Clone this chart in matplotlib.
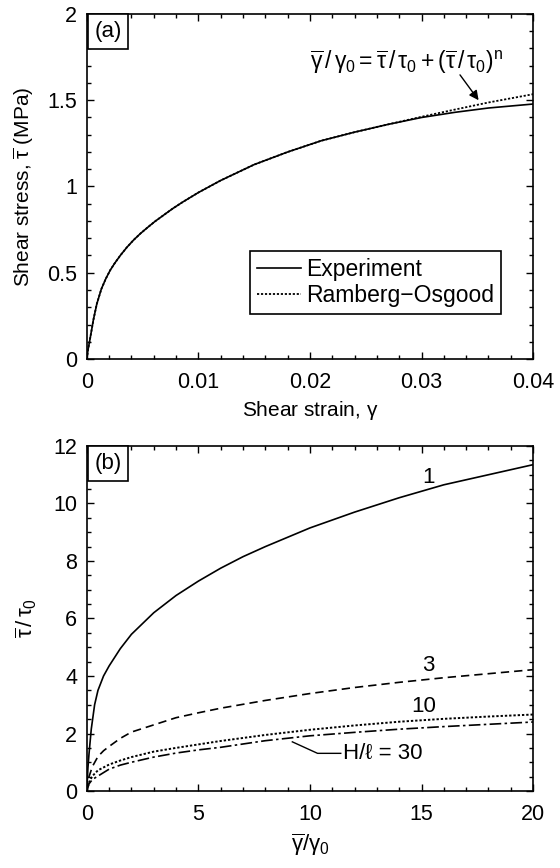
import matplotlib
matplotlib.use('Agg')
import matplotlib.pyplot as plt
from matplotlib.ticker import MultipleLocator

plt.rcParams['font.family'] = ['Liberation Sans', 'DejaVu Sans']
plt.rcParams['mathtext.fontset'] = 'custom'
plt.rcParams['mathtext.rm'] = 'Liberation Sans'
plt.rcParams['mathtext.it'] = 'Liberation Sans'
plt.rcParams['mathtext.bf'] = 'Liberation Sans:bold'
plt.rcParams['font.size'] = 15

# panel (a): shear stress-strain
strain = [0, 0.0001, 0.0003, 0.0006, 0.0009, 0.0013, 0.0017, 0.0021, 0.0025, 0.003,
          0.0036, 0.0042, 0.0048, 0.0054, 0.0061, 0.0068, 0.0077, 0.0086, 0.01, 0.012,
          0.015, 0.018, 0.021, 0.024, 0.027, 0.03, 0.033, 0.036, 0.04]
stress_exp = [0, 0.05, 0.12, 0.23, 0.32, 0.405, 0.465, 0.515, 0.555, 0.60,
              0.648, 0.69, 0.727, 0.76, 0.797, 0.83, 0.872, 0.91, 0.965, 1.035,
              1.127, 1.20, 1.265, 1.315, 1.36, 1.40, 1.43, 1.455, 1.478]
stress_ro = [0, 0.05, 0.12, 0.23, 0.32, 0.405, 0.465, 0.515, 0.555, 0.60,
             0.648, 0.69, 0.727, 0.76, 0.797, 0.83, 0.872, 0.91, 0.965, 1.035,
             1.127, 1.20, 1.265, 1.315, 1.36, 1.404, 1.446, 1.487, 1.535]

# panel (b): normalised curves for H/l = 1, 3, 10, 30
g1 = [0, 0.05, 0.1, 0.2, 0.35, 0.5, 0.75, 1, 1.5, 2, 3, 4, 5, 6, 7, 8, 10, 12, 14, 16, 18, 20]
t1 = [0, 0.8, 1.3, 2.15, 3.0, 3.5, 4.0, 4.35, 4.95, 5.45, 6.2, 6.8, 7.3, 7.75, 8.15, 8.5,
      9.15, 9.7, 10.2, 10.65, 11.0, 11.35]
g3 = [0, 0.1, 0.25, 0.5, 0.75, 1, 1.5, 2, 3, 4, 5, 6, 8, 10, 12, 14, 16, 18, 20]
t3 = [0, 0.5, 0.85, 1.2, 1.4, 1.55, 1.83, 2.05, 2.3, 2.55, 2.72, 2.88, 3.15, 3.39, 3.6,
      3.78, 3.94, 4.08, 4.22]
g10 = [0, 0.1, 0.25, 0.5, 1, 1.5, 2, 3, 4, 5, 6, 8, 10, 12, 14, 16, 18, 20]
t10 = [0, 0.3, 0.52, 0.72, 0.92, 1.06, 1.18, 1.37, 1.5, 1.62, 1.74, 1.95, 2.13, 2.28,
       2.41, 2.51, 2.59, 2.66]
g30 = [0, 0.1, 0.25, 0.5, 1, 1.5, 2, 3, 4, 5, 6, 8, 10, 12, 14, 16, 18, 20]
t30 = [0, 0.25, 0.4, 0.52, 0.76, 0.9, 1.0, 1.18, 1.32, 1.43, 1.52, 1.75, 1.92, 2.04,
       2.15, 2.24, 2.32, 2.4]

xticks_a = [0, 0.01, 0.02, 0.03, 0.04]
xticklabels_a = ['0', '0.01', '0.02', '0.03', '0.04']
yticks_a = [0, 0.5, 1, 1.5, 2]
yticklabels_a = ['0', '0.5', '1', '1.5', '2']

fig = plt.figure(figsize=(5.6, 8.68), dpi=100)
ax1 = fig.add_axes([0.155, 0.5864, 0.797, 0.3975])
ax2 = fig.add_axes([0.155, 0.0887, 0.797, 0.3975])


def style_axes(ax):
    for s in ax.spines.values():
        s.set_linewidth(1.2)
    ax.tick_params(which='both', direction='in', top=True, right=True, width=1.0)
    ax.tick_params(which='major', length=5, labelsize=15.5)
    ax.tick_params(which='minor', length=3)
    ax.tick_params(axis='x', pad=9)
    ax.tick_params(axis='y', pad=7)


# (a)
ax1.plot(strain, stress_exp, color='black', lw=1.2, label='Experiment')
ax1.plot(strain, stress_ro, color='black', lw=1.3, ls=(0, (1.2, 1.0)), label='Ramberg\u2212Osgood')
ax1.set_xlim(0, 0.04)
ax1.set_ylim(0, 2)
ax1.set_xticks(xticks_a)
ax1.set_xticklabels(xticklabels_a)
ax1.set_yticks(yticks_a)
ax1.set_yticklabels(yticklabels_a)
ax1.xaxis.set_minor_locator(MultipleLocator(0.002))
ax1.yaxis.set_minor_locator(MultipleLocator(0.1))
style_axes(ax1)
ax1.set_xlabel(r'Shear strain, $\gamma$', labelpad=5)
ax1.set_ylabel(r'Shear stress, $\overline{\tau}$ (MPa)', labelpad=8)
leg = ax1.legend(loc='lower right', bbox_to_anchor=(0.929, 0.1305), borderaxespad=0,
                 fancybox=False, edgecolor='black', framealpha=1, handlelength=1.9,
                 handletextpad=0.25, borderpad=0.3, labelspacing=0.15, fontsize=16.5)
leg.get_frame().set_linewidth(1.2)
ax1.annotate('', xy=(0.03526, 1.487), xytext=(0.0333, 1.66),
             arrowprops=dict(arrowstyle='-|>', color='black', lw=1.0, mutation_scale=14))
ax1.text(0.0200, 1.72,
         r'$\overline{\gamma}\,/\,\gamma_0 = \overline{\tau}\,/\,\tau_0 + (\overline{\tau}\,/\,\tau_0)^n$',
         ha='left', va='center', fontsize=16.5)
ax1.annotate('(a)', xy=(0, 1), xycoords='axes fraction', xytext=(5.5, -5), textcoords='offset points',
             ha='left', va='top', fontsize=16,
             bbox=dict(boxstyle='square,pad=0.3', fc='white', ec='black', lw=1.2))

# (b)
ax2.plot(g1, t1, color='black', lw=1.2)
ax2.plot(g3, t3, color='black', lw=1.2, ls=(0, (5, 3)))
ax2.plot(g10, t10, color='black', lw=1.4, ls=(0, (1.2, 1.0)))
ax2.plot(g30, t30, color='black', lw=1.2, ls=(0, (7, 2, 1.5, 2)))
ax2.set_xlim(0, 20)
ax2.set_ylim(0, 12)
ax2.xaxis.set_major_locator(MultipleLocator(5))
ax2.xaxis.set_minor_locator(MultipleLocator(1))
ax2.yaxis.set_major_locator(MultipleLocator(2))
ax2.yaxis.set_minor_locator(MultipleLocator(0.5))
style_axes(ax2)
ax2.set_xlabel(r'$\overline{\gamma}/\gamma_0$', labelpad=5, fontsize=16)
ax2.set_ylabel(r'$\overline{\tau}\,/\,\tau_0$', labelpad=10, fontsize=16)
ax2.text(15.3, 10.9, '1', ha='center', va='center', fontsize=16)
ax2.text(15.3, 4.37, '3', ha='center', va='center', fontsize=16)
ax2.text(15.1, 2.95, '10', ha='center', va='center', fontsize=16)
ax2.plot([9.21, 10.34, 11.38], [1.71, 1.31, 1.31], color='black', lw=1.0)
ax2.text(11.46, 1.31, 'H/\u2113 = 30', ha='left', va='center', fontsize=16)
ax2.annotate('(b)', xy=(0, 1), xycoords='axes fraction', xytext=(5.5, -5), textcoords='offset points',
             ha='left', va='top', fontsize=16,
             bbox=dict(boxstyle='square,pad=0.3', fc='white', ec='black', lw=1.2))

fig.savefig('out.png', dpi=100)
